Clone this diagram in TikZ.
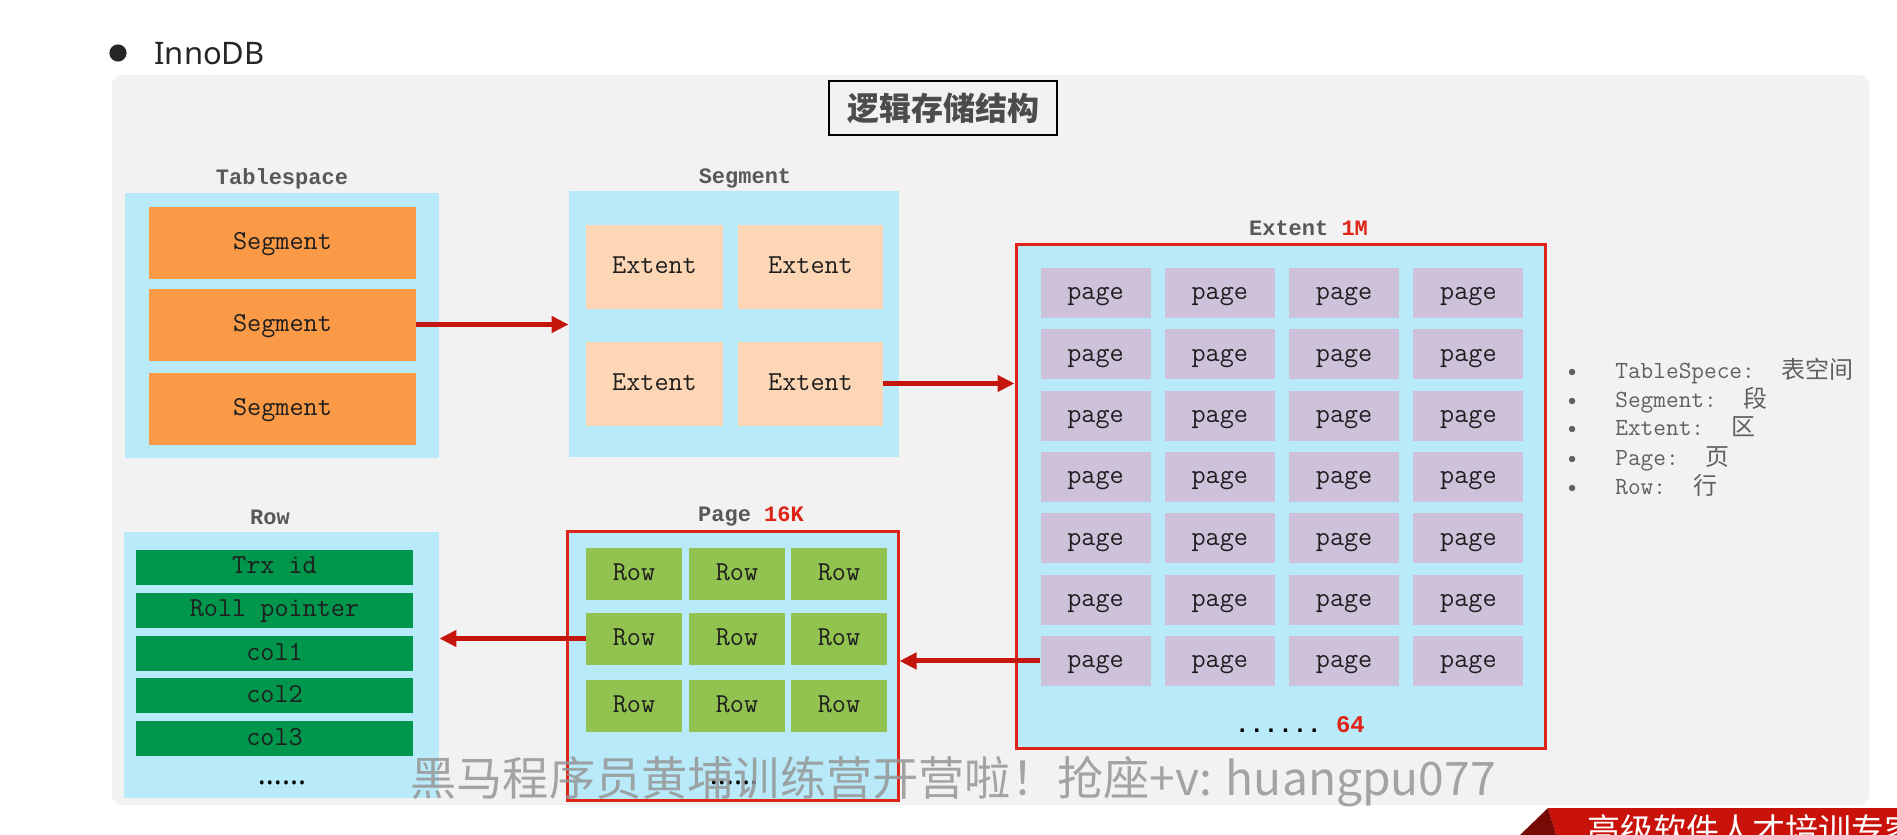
\documentclass[tikz,border=0pt]{standalone}
\usepackage{fontspec}
\setmainfont{Noto Sans}
\newfontfamily\cjk{Noto Sans CJK SC}
\newfontfamily\labelfont{Liberation Mono}
\usetikzlibrary{arrows.meta}
\definecolor{panelgray}{RGB}{242,242,242}
\definecolor{skyblue}{RGB}{184,234,250}
\definecolor{segorange}{RGB}{250,153,70}
\definecolor{extpeach}{RGB}{252,214,181}
\definecolor{pagelilac}{RGB}{206,194,218}
\definecolor{rowgreen}{RGB}{146,194,80}
\definecolor{colgreen}{RGB}{0,150,76}
\definecolor{arrowred}{RGB}{196,22,12}
\definecolor{framered}{RGB}{222,36,24}
\definecolor{labelgray}{RGB}{88,88,88}
\definecolor{notegray}{RGB}{96,96,96}
\definecolor{inkblack}{RGB}{30,30,30}
\definecolor{wmgray}{RGB}{150,150,150}
\definecolor{bannerred}{RGB}{200,18,10}
\definecolor{bannerdark}{RGB}{120,10,6}
\newcommand\fsz[1]{\fontsize{#1}{#1}\selectfont}

\begin{document}
\begin{tikzpicture}[x=0.5pt, y=-0.5pt, >={Triangle[length=8.5pt,width=8pt]},
  cell/.style={inner sep=0pt, font=\ttfamily\fsz{13.7}, text=inkblack,
    text height=0.76em, text depth=0.08em},
  seg/.style={cell, fill=segorange, minimum width=133.5pt, minimum height=36pt},
  ext/.style={cell, fill=extpeach, minimum height=42pt},
  pg/.style={cell, fill=pagelilac, minimum width=55pt, minimum height=25pt},
  rw/.style={cell, fill=rowgreen, minimum width=48pt, minimum height=26pt},
  fld/.style={cell, fill=colgreen, minimum width=138.5pt, minimum height=17.5pt},
  holder/.style={fill=skyblue, inner sep=0pt},
  frame/.style={holder, draw=framered, line width=1.5pt},
  title/.style={inner sep=0pt, font=\labelfont\bfseries\fsz{11}, text=labelgray},
  note/.style={inner sep=0pt, anchor=west, font=\ttfamily\fsz{12.3}, text=notegray,
    text height=8pt, text depth=2.5pt},
  more/.style={inner sep=0pt, font=\bfseries\fsz{15}, text=black},
  link/.style={->, draw=arrowred, line width=2.5pt}]
  \useasboundingbox (0,0) rectangle (1897,835);
  \clip (0,0) rectangle (1897,835);
  \fill[white] (0,0) rectangle (1897,835);

  % heading
  \fill[black!85] (118,53) circle (4.3pt);
  \node[anchor=base west, inner sep=0pt, font=\fsz{15.5}, text=black!85] (innodb) at (154,64) {InnoDB};
  \fill[panelgray, rounded corners=5pt] (112,75) rectangle (1869,805);
  \node[draw=black, line width=0.6pt, fill=panelgray, minimum width=114pt, minimum height=27pt,
    font=\cjk\bfseries\fsz{16}, text=black!70] (head) at (943,108) {逻辑存储结构};

  % tablespace
  \node[holder, minimum width=157pt, minimum height=132.5pt] (tspace) at (282,325.5) {};
  \node[title] (tspace-lbl) at (282,179) {Tablespace};
  \node[seg] (s1) at (282.5,242.5) {Segment};
  \node[seg] (s2) at (282.5,324.5) {Segment};
  \node[seg] (s3) at (282.5,409) {Segment};

  % segment
  \node[holder, minimum width=165pt, minimum height=133pt] (segm) at (734,324) {};
  \node[title] (segm-lbl) at (745,178) {Segment};
  \node[ext, minimum width=68.5pt] (e1) at (654.5,267) {Extent};
  \node[ext, minimum width=72.5pt] (e2) at (810.5,267) {Extent};
  \node[ext, minimum width=68.5pt] (e3) at (654.5,383.5) {Extent};
  \node[ext, minimum width=72.5pt] (e4) at (810.5,383.5) {Extent};

  % extent
  \node[frame, minimum width=264.5pt, minimum height=252pt] (extent) at (1280.5,496) {};
  \node[title] (extent-lbl) at (1308.5,228) {Extent \textcolor{framered}{1M}};
  \foreach \r in {0,...,6}
    \foreach \c in {0,...,3}
      \node[pg] (p\r\c) at ({1095.5+124.3*\c},{293+61.33*\r}) {page};
  \node[inner sep=0pt, font=\labelfont\bfseries\fsz{12}] (more64) at (1300,725) {......~\textcolor{framered}{64}};

  % page
  \node[frame, minimum width=165.5pt, minimum height=134.5pt] (pagebox) at (732.5,665.5) {};
  \node[title] (pagebox-lbl) at (751,516) {Page \textcolor{framered}{16K}};
  \foreach \r/\y in {0/574,1/638.5,2/706}
    \foreach \c/\x in {0/634,1/737,2/839}
      \node[rw] (r\r\c) at (\x,\y) {Row};
  \node[more] (morerows) at (734,783) {......};

  % row
  \node[holder, minimum width=157.5pt, minimum height=133pt] (rowbox) at (281.5,665) {};
  \node[title] (rowbox-lbl) at (270,517) {Row};
  \node[fld] (f1) at (274.5,567) {Trx id};
  \node[fld] (f2) at (274.5,610) {Roll pointer};
  \node[fld] (f3) at (274.5,653.5) {col1};
  \node[fld] (f4) at (274.5,695.5) {col2};
  \node[fld] (f5) at (274.5,738.5) {col3};
  \node[more] (morecols) at (282,783) {......};

  \draw[link] (s2.east) -- (s2.east -| segm.west);
  \draw[link] (e4.east) -- (e4.east -| extent.west);
  \draw[link] (p60.west) -- (p60.west -| pagebox.east);
  \draw[link] (r10.west) -- (r10.west -| rowbox.east);

  % glossary
  \foreach \y/\t [count=\i] in {373/{TableSpece:\hspace{13.5pt}{\cjk\fsz{12}表空间}},
      402/{Segment:\hspace{13.5pt}{\cjk\fsz{12}段}}, 430/{Extent:\hspace{13.5pt}{\cjk\fsz{12}区}},
      460/{Page:\hspace{13.5pt}{\cjk\fsz{12}页}}, 489/{Row:\hspace{13.5pt}{\cjk\fsz{12}行}}}
    \node[note] (note\i) at (1565.5,\y) {\makebox[24.75pt][l]{\textbullet}\t};

  % overlay texts
  \node[anchor=west, inner sep=0pt, font=\cjk\fsz{23.1}, text=wmgray, text opacity=0.85] (mark)
    at (410,782) {黑马程序员黄埔训练营开营啦！抢座+v: huangpu077};
  \fill[bannerred] (1548,808) -- (1897,808) -- (1897,835) -- (1556,835) -- cycle;
  \fill[bannerdark] (1520,835) -- (1548,808) -- (1556,835) -- cycle;
  \node[anchor=base west, inner sep=0pt, font=\cjk\fsz{16.5}, text=white] (slogan)
    at (1587,842) {高级软件人才培训专家};
\end{tikzpicture}
\end{document}
